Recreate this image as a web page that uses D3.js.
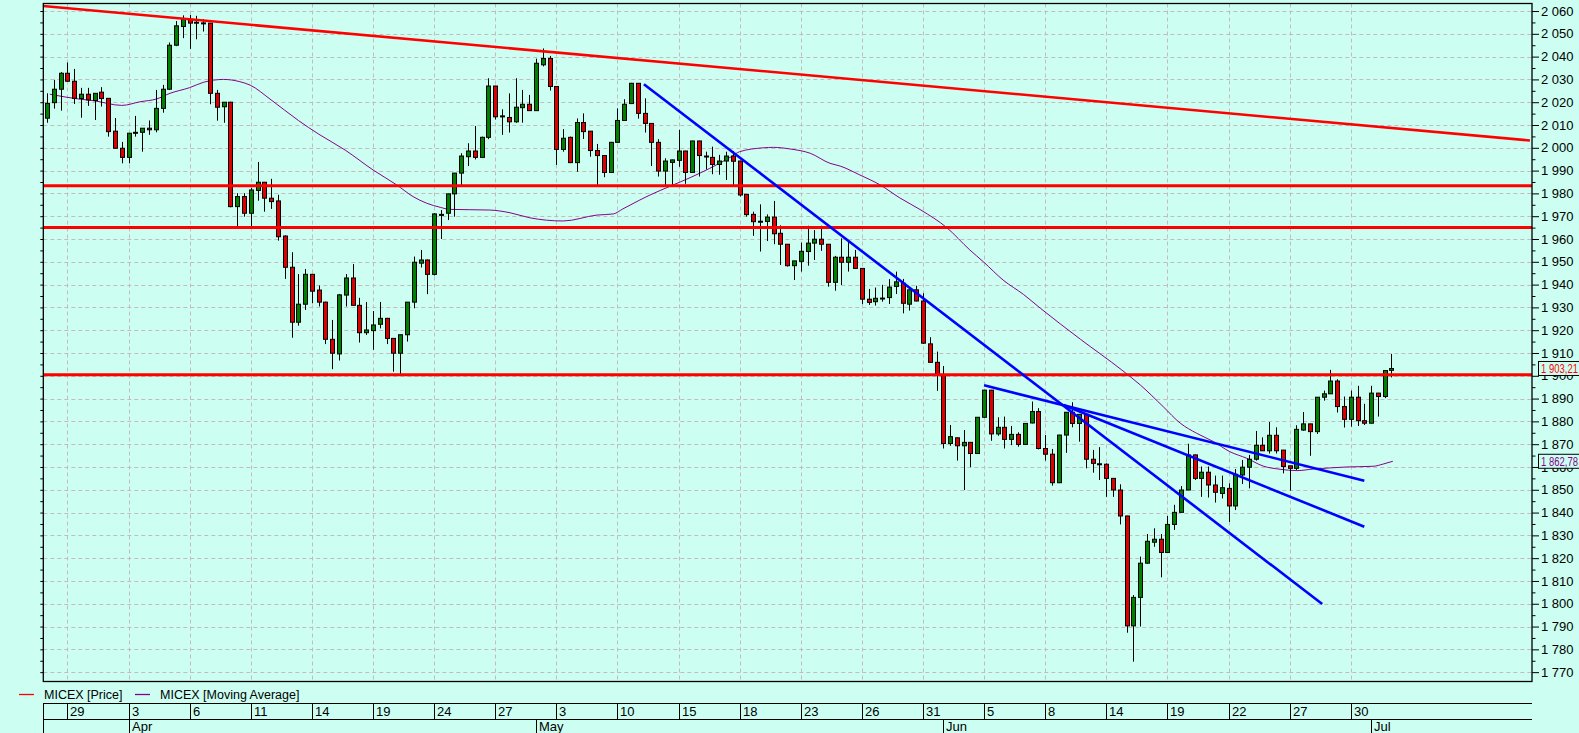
<!DOCTYPE html>
<html><head><meta charset="utf-8">
<script src="https://cdn.jsdelivr.net/npm/d3@7"></script>
<style>
body{margin:0;background:#ccfff2;}
svg{display:block;}
text{font-family:"Liberation Sans Narrow","Arial Narrow","Liberation Sans",sans-serif;}
</style>
</head><body><svg id="c" width="1579" height="733"></svg>
<script>
// ---- DATA ----
const opens=[2013.0,2019.8,2025.7,2032.7,2029.2,2021.6,2023.5,2020.7,2024.4,2021.7,
2007.3,1999.8,1995.8,2006.6,2006.8,2008.6,2007.9,2017.3,2025.7,2045.0,
2053.2,2056.4,2054.9,2054.7,2054.7,2023.9,2018.0,2020.0,1974.2,1978.6,
1971.3,1981.3,1984.9,1977.9,1976.7,1961.3,1947.6,1923.5,1931.4,1944.5,
1937.6,1932.3,1916.0,1909.6,1935.4,1942.9,1930.9,1918.9,1919.8,1922.6,
1925.2,1916.4,1909.9,1918.0,1932.3,1949.4,1950.8,1944.5,1970.6,1971.3,
1979.8,1988.9,1996.1,1998.6,1995.8,2004.6,2027.1,2013.8,2013.3,2011.4,
2017.6,2019.1,2016.3,2036.4,2039.2,2026.9,1999.3,2004.6,1993.5,2011.1,
2007.3,1998.8,1996.6,1989.2,2002.4,2012.0,2019.4,2028.3,2015.1,2010.7,
2002.4,1989.8,1993.6,1994.5,1998.6,1989.2,2003.0,1996.2,1995.8,1992.7,
1994.2,1996.4,1994.2,1979.6,1970.8,1967.6,1967.7,1969.6,1962.5,1957.7,
1948.3,1950.2,1954.5,1958.2,1959.9,1957.7,1941.0,1952.0,1949.8,1952.0,
1947.1,1933.6,1932.5,1933.9,1934.3,1939.2,1940.6,1931.4,1937.7,1932.8,
1914.0,1905.9,1900.6,1870.3,1872.8,1869.3,1870.8,1865.9,1881.8,1893.7,
1874.5,1877.4,1872.1,1874.3,1869.9,1879.3,1884.3,1868.1,1865.6,1853.1,
1874.0,1884.0,1879.1,1883.1,1863.4,1861.2,1861.2,1855.0,1849.9,1838.5,
1790.3,1802.8,1817.8,1827.0,1828.3,1822.5,1834.8,1840.1,1849.9,1865.3,
1855.0,1857.7,1852.1,1848.4,1850.6,1842.9,1856.5,1859.9,1863.4,1869.5,
1867.1,1873.9,1867.4,1860.5,1859.4,1876.2,1878.9,1875.5,1890.6,1892.1,
1897.7,1886.5,1880.9,1890.6,1880.3,1879.2,1892.4,1890.9,1902.4];
const highs=[2023.9,2029.8,2033.2,2037.4,2034.6,2026.3,2026.3,2024.0,2026.6,2021.8,
2013.1,2002.6,2006.4,2014.0,2008.6,2012.0,2025.4,2027.6,2046.2,2055.6,
2058.1,2058.3,2057.9,2056.4,2054.8,2025.4,2020.0,2020.2,1980.1,1980.1,
1982.4,1993.8,1985.0,1986.4,1979.4,1961.6,1954.2,1944.6,1946.8,1944.7,
1939.6,1932.5,1924.5,1935.9,1944.6,1949.0,1934.2,1932.4,1928.4,1932.4,
1925.4,1916.6,1918.0,1932.3,1952.3,1955.2,1951.0,1971.4,1972.7,1979.9,
1989.0,1997.6,2002.0,2009.6,2004.9,2030.5,2027.2,2016.9,2023.9,2030.5,
2025.4,2023.2,2039.1,2043.6,2040.3,2027.0,2008.2,2004.9,2012.9,2015.1,
2007.4,2001.7,1996.7,2002.6,2017.3,2021.3,2028.5,2028.4,2021.7,2010.8,
2003.8,1995.4,1994.8,2007.9,1998.7,2003.1,2003.1,1998.3,2000.5,1996.9,
1998.3,1998.6,1994.3,1979.7,1972.0,1975.2,1970.8,1976.7,1966.0,1957.8,
1950.4,1958.4,1965.8,1963.9,1965.8,1957.8,1952.6,1960.3,1958.9,1955.2,
1947.2,1938.1,1938.7,1939.9,1942.4,1945.7,1942.5,1937.9,1939.5,1936.2,
1916.9,1910.6,1904.3,1878.4,1872.9,1876.2,1870.9,1881.9,1893.8,1893.8,
1881.8,1882.1,1878.0,1875.2,1879.2,1888.7,1885.8,1874.0,1867.9,1874.1,
1884.1,1888.4,1883.2,1883.2,1867.5,1868.7,1861.6,1855.1,1852.4,1838.6,
1803.8,1820.7,1830.6,1833.1,1830.6,1838.5,1843.4,1851.6,1870.2,1865.4,
1860.2,1860.2,1856.2,1856.2,1852.8,1859.1,1863.1,1865.3,1875.8,1873.0,
1879.7,1877.4,1867.5,1860.6,1878.3,1884.1,1879.0,1890.6,1893.5,1902.6,
1898.5,1890.9,1893.5,1895.6,1887.7,1895.6,1892.5,1902.3,1909.6];
const lows=[2011.0,2017.2,2016.3,2029.0,2019.2,2013.2,2018.4,2012.2,2018.1,2004.9,
1999.8,1993.2,1993.2,2004.9,1998.3,2005.7,2006.8,2015.4,2025.4,2044.6,
2048.1,2043.4,2047.6,2051.0,2019.1,2011.9,2011.0,1973.9,1965.7,1969.8,
1965.7,1976.8,1972.0,1973.2,1959.3,1942.5,1916.7,1922.0,1928.9,1931.8,
1930.4,1913.9,1902.9,1906.7,1930.4,1930.7,1914.6,1917.9,1911.4,1920.8,
1913.9,1901.8,1900.8,1915.0,1929.6,1947.5,1935.8,1944.0,1960.0,1968.3,
1969.8,1983.7,1992.0,1994.9,1995.5,2003.8,2012.4,2005.7,2006.7,2011.0,
2011.0,2016.3,2016.2,2035.7,2025.1,1992.5,1998.3,1993.3,1989.5,2003.9,
1996.1,1983.7,1987.1,1989.0,2002.2,2011.8,2019.2,2012.8,2006.7,1992.0,
1987.4,1983.3,1983.7,1991.7,1984.2,1989.0,1987.4,1990.5,1988.4,1988.2,
1985.9,1983.3,1978.6,1969.8,1961.4,1954.5,1959.1,1957.7,1948.6,1947.9,
1942.0,1945.7,1948.3,1950.8,1954.8,1939.1,1937.3,1939.8,1945.7,1946.9,
1931.4,1931.1,1930.8,1932.5,1931.5,1935.9,1927.4,1928.6,1932.6,1914.0,
1905.7,1893.4,1868.1,1869.3,1862.8,1849.9,1859.9,1865.8,1881.7,1871.5,
1873.7,1868.1,1869.6,1868.9,1869.8,1879.1,1867.7,1862.8,1851.8,1852.9,
1866.2,1877.4,1871.1,1859.4,1857.5,1854.3,1846.9,1846.9,1834.8,1787.3,
1774.6,1790.0,1817.6,1825.0,1811.6,1822.3,1832.4,1840.0,1849.8,1854.3,
1846.9,1846.6,1844.4,1846.2,1835.9,1841.1,1852.5,1850.6,1862.8,1867.0,
1865.9,1865.9,1857.2,1849.6,1858.7,1875.9,1864.9,1874.5,1889.1,1892.0,
1883.9,1877.3,1877.7,1878.0,1878.4,1879.1,1882.1,1890.2,1899.3];
const closes=[2019.5,2025.7,2032.7,2029.2,2021.7,2023.5,2021.0,2023.9,2021.6,2007.1,
1999.8,1995.8,2006.4,2006.8,2008.6,2007.9,2017.3,2025.7,2045.0,2053.5,
2056.4,2054.7,2055.1,2054.8,2023.9,2017.8,2020.0,1974.2,1978.6,1971.3,
1981.5,1984.9,1977.9,1976.4,1961.0,1947.6,1923.5,1931.4,1944.5,1937.1,
1932.3,1916.0,1909.9,1935.5,1942.9,1930.9,1918.9,1920.1,1922.3,1925.2,
1916.4,1909.9,1918.0,1932.3,1949.8,1950.8,1944.5,1971.0,1970.8,1979.8,
1988.9,1996.4,1998.6,1995.8,2004.6,2027.1,2013.6,2014.0,2011.4,2017.8,
2019.1,2016.3,2037.1,2039.2,2026.9,1999.3,2004.2,1993.5,2011.1,2007.1,
1998.8,1996.6,1989.2,2002.4,2012.0,2019.1,2028.3,2015.1,2010.7,2002.4,
1989.8,1994.2,1994.7,1998.6,1989.2,2003.0,1996.6,1996.4,1992.7,1994.2,
1996.4,1994.1,1979.3,1970.7,1967.6,1967.8,1969.6,1962.3,1957.7,1948.3,
1950.4,1954.6,1958.2,1959.9,1957.7,1941.0,1952.0,1949.8,1952.0,1947.1,
1933.6,1932.2,1934.0,1934.1,1938.9,1941.2,1931.8,1937.7,1932.8,1914.3,
1905.9,1900.6,1870.3,1873.3,1869.3,1870.8,1865.9,1881.8,1893.7,1874.5,
1877.4,1872.1,1874.3,1869.9,1879.1,1884.3,1868.1,1865.6,1853.1,1874.0,
1884.0,1879.1,1883.1,1863.4,1861.6,1861.4,1855.0,1849.9,1838.5,1790.3,
1802.8,1817.8,1827.4,1828.3,1822.5,1834.8,1840.1,1849.9,1865.3,1855.0,
1857.7,1852.1,1848.9,1850.9,1842.9,1856.8,1859.9,1863.4,1869.5,1867.1,
1873.9,1867.1,1860.2,1859.4,1876.5,1878.9,1875.5,1890.6,1892.1,1897.7,
1886.5,1880.9,1890.6,1880.3,1879.2,1892.4,1890.9,1902.3,1903.2];

// moving average, read at bar positions
const maIndex=[0.4,4.9,6.8,11,13.7,16.1,18.1,21,23,26,28.4,29.9,33,37,40,43.9,48,51.5,53.9,55.9,57.9,
59.3,65.2,68.2,71.1,76,81,83.4,84.8,87.3,88.8,91.8,94.7,97.6,100.6,102,105.5,107,109.4,112.4,115.3,116.8,
119.7,122.7,125.6,128.7,132.5,135.9,137.9,140.8,143.8,146.3,152.2,158.3,161,164.4,166.9,169.3,171.8,174.2,
176.7,179.1,181.6,184.1,186.5,189,191.4,195.3,196.8,198.2];
const maValues=[2023.5,2021.3,2020.7,2018.6,2020.2,2021.4,2023.9,2026.4,2028.7,2030.0,2029.0,2027.5,2021,2012,2006,1999.0,1990.3,1983.7,1978.6,1975.7,1973.9,
1973.0,1972.7,1971.5,1969.3,1967.9,1970.5,1971.0,1973.2,1977.1,1979.3,1983.2,1986.9,1991.0,1995.8,1998.3,2000.0,2000.2,1999.5,1997.6,1993.2,1992.0,
1988.1,1983.7,1978.0,1972.7,1965.0,1955.2,1950.0,1942.0,1935.7,1929.6,1916,1902.5,1896.0,1886.4,1879.2,1874.8,1871.1,1866.7,
1863.8,1860.4,1859.0,1858.4,1859.1,1859.6,1860.0,1860.3,1861.3,1862.5];

const levelValues=[1983.4,1965.0,1900.4];
const redTrend=[[-1.05,2062.3],[218.4,2003.2]];
const blueTrends=[[[87.9,2027.9],[187.8,1799.9]],[[138,1895.8],[194,1854.0]],[[149.7,1887.2],[194,1833.8]]];

const dayIdx=[3,12,21,30,39,48,57,66,75,84,93,102,111,120,129,138,147,156,165,174,183,192];
const dayLabels=["29","3","6","11","14","19","24","27","3","10","15","18","23","26","31","5","8","14","19","22","27","30"];
const monthIdx=[12,72,132,195];
const monthLabels=["Apr","May","Jun","Jul"];
const priceTicks=d3.range(1770,2061,10);
const minorTicks=d3.range(1775,2060,10);
const lastPriceLabel="1 903,21", maLabel="1 862,78";
const legendNames=["MICEX [Price]","MICEX [Moving Average]"];

// ---- LAYOUT ----
const W=1579,H=733, L=43.3, R=1532, T=3.5, B=681.5;
const BG="#ccfff2", GREEN="#008000", RED="#dd0000";
const svg=d3.select("#c");
svg.append("rect").attr("width",W).attr("height",H).attr("fill",BG);

const x=d3.scaleLinear().domain([-0.56,218.7]).range([L,R]);
const y=d3.scaleLinear().domain([1765.9,2063.3]).range([B,T]);
const fmt=v=>{const s=String(Math.round(v));return s.slice(0,s.length-3)+" "+s.slice(-3);};

svg.append("defs").append("clipPath").attr("id","pc").append("rect")
  .attr("x",L).attr("y",T).attr("width",R-L).attr("height",B-T);
const plot=svg.append("g").attr("clip-path","url(#pc)");

// grid
plot.append("g").selectAll("line").data(priceTicks).join("line")
  .attr("x1",L).attr("x2",R).attr("y1",d=>Math.round(y(d))+0.5).attr("y2",d=>Math.round(y(d))+0.5)
  .attr("stroke","#c4bcbc").attr("stroke-dasharray","4,3");
plot.append("g").selectAll("line").data(dayIdx).join("line")
  .attr("x1",d=>Math.round(x(d))+0.5).attr("x2",d=>Math.round(x(d))+0.5).attr("y1",T).attr("y2",B)
  .attr("stroke","#c4bcbc").attr("stroke-dasharray","4,3");

// moving average
const maPts=maIndex.map((d,i)=>[d,maValues[i]]);
plot.append("path").datum(maPts)
  .attr("d",d3.line().x(d=>x(d[0])).y(d=>y(d[1])).curve(d3.curveMonotoneX))
  .attr("fill","none").attr("stroke","#880088").attr("stroke-width",1);

// candles
const idx=d3.range(opens.length);
const cg=plot.append("g");
cg.selectAll("line").data(idx).join("line")
  .attr("x1",i=>Math.round(x(i))+0.5).attr("x2",i=>Math.round(x(i))+0.5)
  .attr("y1",i=>y(highs[i])).attr("y2",i=>y(lows[i])).attr("stroke","#000");
cg.selectAll("rect").data(idx).join("rect")
  .attr("x",i=>Math.round(x(i))-1.5).attr("width",4)
  .attr("y",i=>y(Math.max(opens[i],closes[i])))
  .attr("height",i=>Math.max(1,Math.abs(y(opens[i])-y(closes[i]))))
  .attr("fill",i=>closes[i]>=opens[i]?GREEN:RED).attr("stroke","#000");

// levels & trend lines
plot.append("g").selectAll("line").data(levelValues).join("line")
  .attr("x1",L).attr("x2",R).attr("y1",d=>y(d)).attr("y2",d=>y(d))
  .attr("stroke","#ff0000").attr("stroke-width",3);
plot.append("line").attr("x1",x(redTrend[0][0])).attr("y1",y(redTrend[0][1]))
  .attr("x2",x(redTrend[1][0])).attr("y2",y(redTrend[1][1]))
  .attr("stroke","#ff0000").attr("stroke-width",2.6);
plot.append("g").selectAll("line").data(blueTrends).join("line")
  .attr("x1",d=>x(d[0][0])).attr("y1",d=>y(d[0][1])).attr("x2",d=>x(d[1][0])).attr("y2",d=>y(d[1][1]))
  .attr("stroke","#0000ff").attr("stroke-width",2.6);

// frame
svg.append("rect").attr("x",L).attr("y",T).attr("width",R-L).attr("height",B-T)
  .attr("fill","none").attr("stroke","#000").attr("stroke-width",1.3);

// right axis
const ax=svg.append("g").attr("transform",`translate(${R},0)`)
  .call(d3.axisRight(y).tickValues(priceTicks).tickSize(7).tickPadding(2).tickFormat(fmt));
ax.select(".domain").remove();
ax.selectAll("text").attr("font-size",13).attr("fill","#000")
  .style("font-family",'"Liberation Sans Narrow","Arial Narrow",sans-serif');
ax.selectAll("line").attr("stroke","#000");
const axm=svg.append("g").attr("transform",`translate(${R},0)`)
  .call(d3.axisRight(y).tickValues(minorTicks).tickSize(3.5).tickFormat(""));
axm.select(".domain").remove(); axm.selectAll("line").attr("stroke","#000");
// left ticks
const axl=svg.append("g").attr("transform",`translate(${L},0)`)
  .call(d3.axisLeft(y).tickValues(priceTicks.concat(minorTicks)).tickSize(3).tickFormat(""));
axl.select(".domain").remove(); axl.selectAll("line").attr("stroke","#000");

// value boxes
function valueBox(v,label,color){
  const g=svg.append("g").attr("transform",`translate(1538,${y(v)})`);
  g.append("rect").attr("x",0.5).attr("y",-7).attr("width",60).attr("height",14)
    .attr("fill",BG).attr("stroke","#000");
  g.append("text").attr("x",3).attr("y",5).attr("font-size",13).attr("fill",color)
    .attr("textLength",37).attr("lengthAdjust","spacingAndGlyphs").text(label);
}
valueBox(closes[closes.length-1],lastPriceLabel,"#ff0000");
valueBox(maValues[maValues.length-1],maLabel,"#880088");

// legend
const lg=svg.append("g");
lg.append("line").attr("x1",19).attr("x2",34).attr("y1",694.5).attr("y2",694.5).attr("stroke","#ff0000").attr("stroke-width",1.3);
lg.append("text").attr("x",44).attr("y",699).attr("font-size",12.5).text(legendNames[0]);
lg.append("line").attr("x1",135).attr("x2",150).attr("y1",694.5).attr("y2",694.5).attr("stroke","#880088").attr("stroke-width",1.3);
lg.append("text").attr("x",160).attr("y",699).attr("font-size",12.5).text(legendNames[1]);

// date axis
const da=svg.append("g");
da.append("line").attr("x1",L).attr("x2",R).attr("y1",703.5).attr("y2",703.5).attr("stroke","#000");
da.append("line").attr("x1",L).attr("x2",R).attr("y1",719.5).attr("y2",719.5).attr("stroke","#000");
da.append("line").attr("x1",Math.round(L)+0.5).attr("x2",Math.round(L)+0.5).attr("y1",703).attr("y2",H).attr("stroke","#000");
da.selectAll(".dl").data(dayIdx).join("line").attr("class","dl")
  .attr("x1",d=>Math.round(x(d))+0.5).attr("x2",d=>Math.round(x(d))+0.5).attr("y1",703).attr("y2",719.5).attr("stroke","#000");
da.selectAll(".dt").data(dayIdx).join("text").attr("class","dt")
  .attr("x",d=>Math.round(x(d))+3).attr("y",716).attr("font-size",13).text((d,i)=>dayLabels[i]);
da.selectAll(".ml").data(monthIdx).join("line").attr("class","ml")
  .attr("x1",d=>Math.round(x(d))+0.5).attr("x2",d=>Math.round(x(d))+0.5).attr("y1",719.5).attr("y2",H).attr("stroke","#000");
da.selectAll(".mt").data(monthIdx).join("text").attr("class","mt")
  .attr("x",d=>Math.round(x(d))+3).attr("y",731).attr("font-size",13).text((d,i)=>monthLabels[i]);
</script></body></html>
